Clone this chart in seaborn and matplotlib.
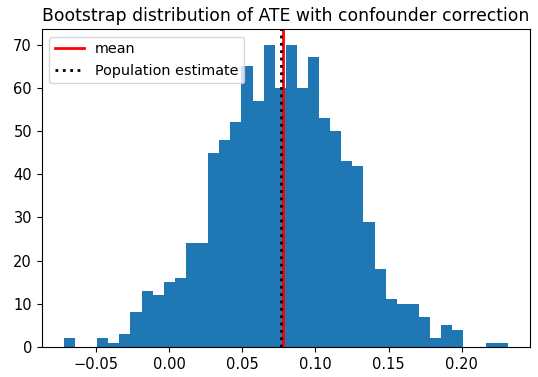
import numpy as np
import pandas as pd
import matplotlib
matplotlib.use("Agg")
import matplotlib.pyplot as plt
import seaborn as sns

# Histogram (40 bins, 1000 bootstrap samples)
ate_min = -0.0722
ate_max = 0.2316
bin_counts = [2, 0, 0, 2, 1, 3, 8, 13, 12, 15,
              16, 24, 24, 45, 48, 52, 65, 57, 70, 60,
              70, 60, 67, 53, 50, 43, 42, 29, 18, 11,
              10, 10, 7, 2, 5, 4, 0, 0, 1, 1]
mean_ate = 0.0778
population_estimate = 0.0765
title = "Bootstrap distribution of ATE with confounder correction"

bin_edges = np.linspace(ate_min, ate_max, len(bin_counts) + 1)
bin_centers = (bin_edges[:-1] + bin_edges[1:]) / 2
df = pd.DataFrame({"ate": bin_centers, "count": bin_counts})

plt.rcParams["font.size"] = 10.5

fig = plt.figure(figsize=(5.38, 3.77), dpi=100)
ax = fig.add_axes([0.0775, 0.0796, 0.9075, 0.8424])

sns.histplot(data=df, x="ate", weights="count", bins=bin_edges.tolist(), ax=ax,
             color="#1f77b4", alpha=1.0, linewidth=0, edgecolor="none")

ax.axvline(mean_ate, color="red", linewidth=2, label="mean")
ax.axvline(population_estimate, color="black", linestyle=":", linewidth=2,
           label="Population estimate")

ax.set_xlim(ate_min - 0.05 * (ate_max - ate_min), ate_max + 0.05 * (ate_max - ate_min))
ax.set_ylim(0, 73.5)
ax.set_xlabel("")
ax.set_ylabel("")
ax.tick_params(labelsize=10.5)
ax.set_title(title, fontsize=12.45)
ax.legend(loc="upper left", fontsize=10.4)

fig.savefig("out.png", dpi=100)
